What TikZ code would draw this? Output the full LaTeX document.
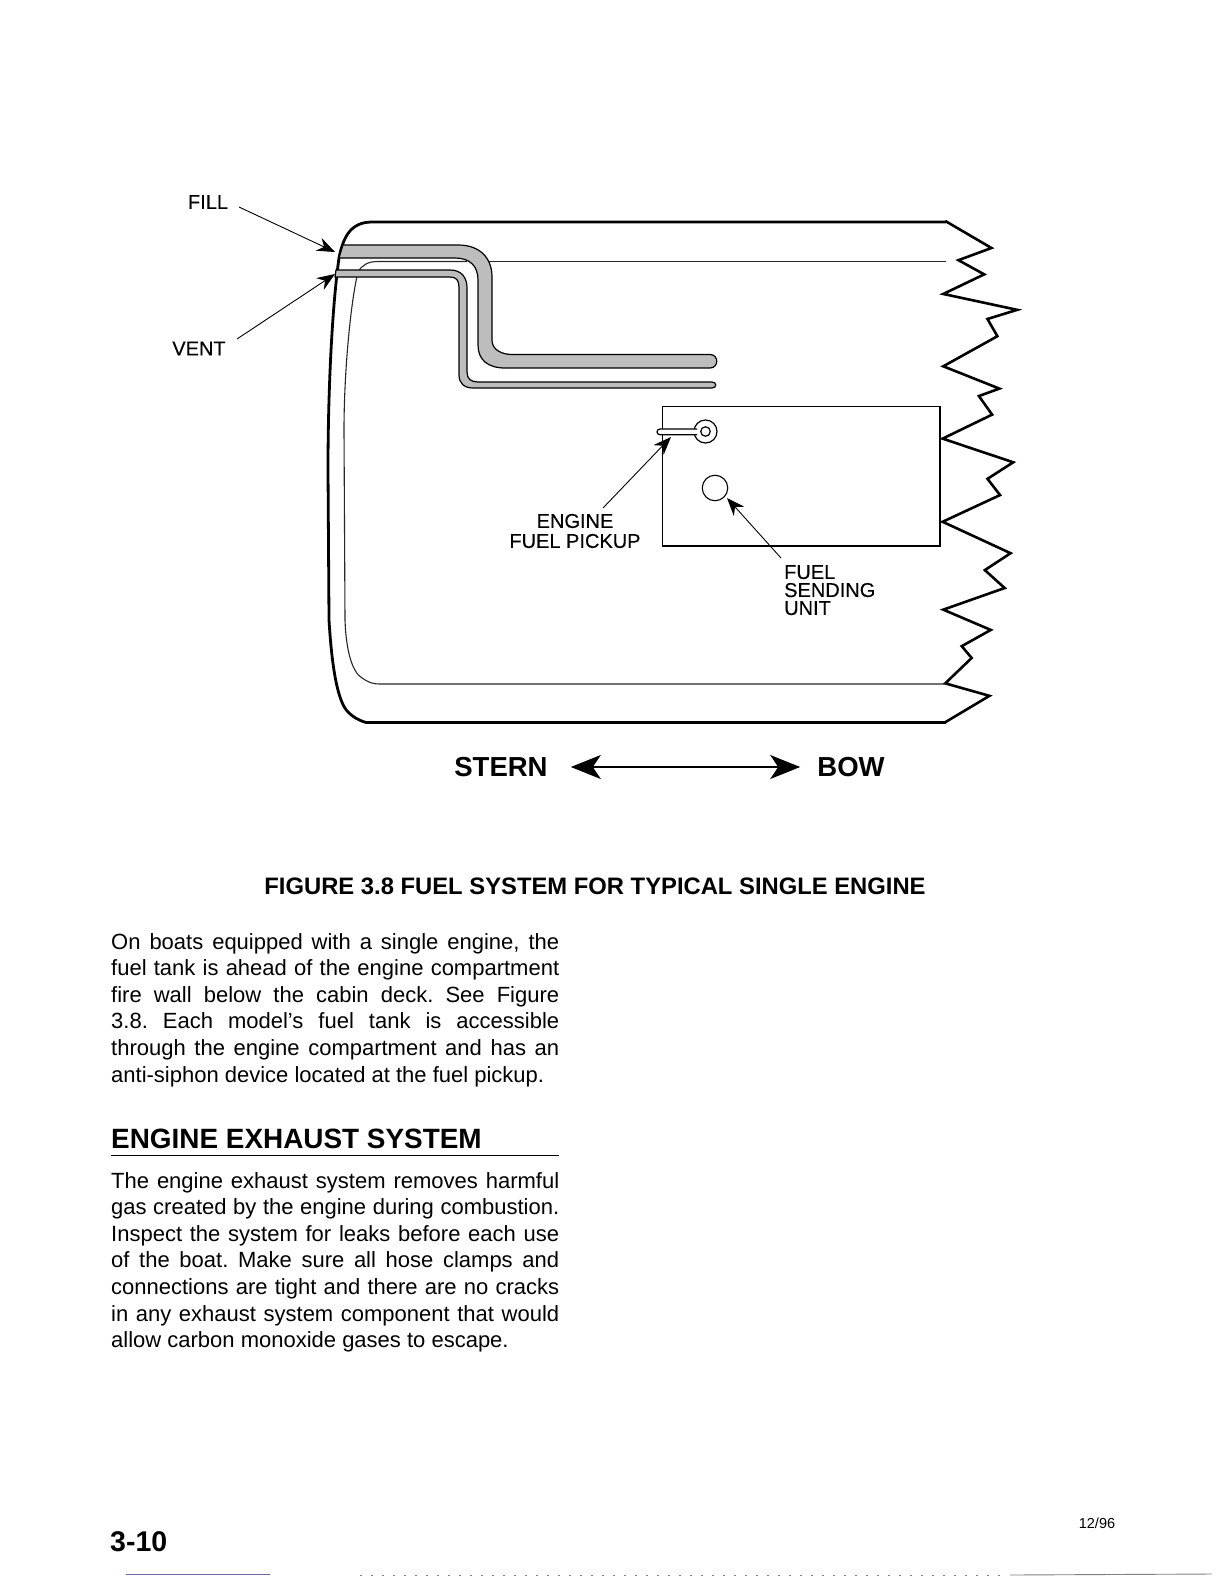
\documentclass[tikz,border=0pt]{standalone}
\usepackage{fontspec}
\setmainfont{Liberation Sans}
\newfontfamily\labelfont[FakeBold=0.25]{Liberation Sans}
\usetikzlibrary{arrows.meta}
\frenchspacing
\newcommand\jl[1]{\hbox to 448pt{#1}}
\newcommand\nl[1]{\hbox{#1}}
\tikzset{
  hull/.style={line width=2.8pt,line join=round},
  thinline/.style={line width=1.1pt,black!85},
  pipe/.style={draw=black,line width=1.2pt,fill=black!26},
  lbl/.style={inner sep=0pt,font=\labelfont\fontsize{20}{20}\selectfont,align=left},
  leader/.style={line width=0.9pt,-{Stealth[length=18pt,width=14pt,inset=6pt]}},
  para/.style={inner sep=0pt,anchor=north west},
}
\begin{document}
\begin{tikzpicture}[x=1pt,y=-1pt]
\useasboundingbox (0,0) rectangle (1224,1584);
% hull
\draw[hull] (946,222) -- (372,222) .. controls (350,222) and (343,238) .. (339,258)
  .. controls (333,300) and (328,380) .. (328,470)
  -- (329,620) .. controls (332,670) and (338,702) .. (348,712)
  .. controls (353,717) and (358,720) .. (366,722.5) -- (946,722.5);
\begin{scope}[shift={(919.5,200)},x=0.33pt,y=-0.338pt]
\draw[line width=2.6pt,line join=miter] (78,62)--(218,142)--(118,178)--(196,220)--(72,278)--(296,325)--(206,352)--(236,403)--(72,492)--(242,558)--(180,580)--(220,635)--(70,706)--(284,776)--(206,825)--(244,873)--(70,952)--(276,1045)--(198,1095)--(258,1148)--(72,1212)--(216,1272)--(128,1320)--(158,1355)--(78,1430)--(212,1467)--(78,1545);
\end{scope}
% inner hull line
\draw[thinline] (946,261.5) -- (488,261.5);
\draw[thinline] (467,261.5) -- (378,261.5) .. controls (368,261.5) and (362,265) .. (358,272)
  .. controls (351,300) and (344,370) .. (344,430) -- (345,620)
  .. controls (346,650) and (352,672) .. (362,678)
  .. controls (368,682) and (372,684) .. (380,684) -- (946,684);
% fill pipe
\draw[pipe] (343,245) -- (458,245) .. controls (480,245) and (492,258) .. (492,277)
  -- (492,340) .. controls (492,350) and (502,354.5) .. (512,354.5) -- (710,354.5)
  .. controls (719,354.5) and (719,368) .. (710,368) -- (505,368)
  .. controls (488,368) and (478,360) .. (478,345) -- (478,280)
  .. controls (478,266) and (470,258) .. (455,258) -- (339,258) -- cycle;
% vent pipe
\draw[pipe] (336,270) -- (450,270) .. controls (462,270) and (467,278) .. (467,288)
  -- (467,372) .. controls (467,379) and (471,382) .. (478,382) -- (712,382)
  .. controls (717,382) and (717,388) .. (712,388) -- (473,388)
  .. controls (464,388) and (459,383) .. (459,375) -- (459,287)
  .. controls (459,280) and (456,277) .. (450,277) -- (335,277) -- cycle;
% tank box
\draw[line width=1.3pt] (662.5,406.5) rectangle (940,546);
\node[draw,circle,line width=1.2pt,fill=white,minimum size=23pt,inner sep=0pt] (ringouter) at (705.5,431.5) {};
\draw[line width=1.2pt,fill=white] (697,429) -- (660,429) .. controls (656,429) and (656,434.7) .. (660,434.7) -- (697,434.7);
\node[draw,circle,line width=1.2pt,fill=white,minimum size=9.5pt,inner sep=0pt] (ringinner) at (705.5,431.5) {};
\node[draw,circle,line width=1.1pt,minimum size=25.5pt,inner sep=0pt] (sender) at (715,488) {};
% labels and leaders
\node[lbl,anchor=center] (fill) at (208,202) {FILL};
\node[lbl,anchor=center] (vent) at (199,348.5) {VENT};
\node[lbl,align=center,anchor=center] (pickup) at (575,531) {ENGINE\\FUEL PICKUP};
\node[lbl,anchor=north west,font=\labelfont\fontsize{20}{18}\selectfont] (sending) at (784,565) {FUEL\\SENDING\\UNIT};
\coordinate (fillstart) at (239,207);
\coordinate (filltip) at (335,252);
\coordinate (ventstart) at (237,339);
\coordinate (venttip) at (335,274);
\coordinate (pickstart) at (603,508);
\coordinate (picktip) at (671,437);
\coordinate (sendstart) at (781,558);
\coordinate (sendtip) at (727,498);
\draw[leader] (fillstart) -- (filltip);
\draw[leader] (ventstart) -- (venttip);
\draw[leader] (pickstart) -- (picktip);
\draw[leader] (sendstart) -- (sendtip);
% stern / bow
\node[inner sep=0pt,font=\fontsize{27.5}{30}\selectfont\bfseries] (stern) at (501,767) {STERN};
\node[inner sep=0pt,font=\fontsize{27.5}{30}\selectfont\bfseries] (bow) at (851,767) {BOW};
\draw[line width=1.3pt,{Stealth[length=30pt,width=24pt,inset=8pt]}-{Stealth[length=30pt,width=24pt,inset=8pt]},shorten <=23pt,shorten >=17pt] (stern.east) -- (bow.west);
% caption
\node[inner sep=0pt,font=\fontsize{23.8}{26}\selectfont\bfseries] (caption) at (595,886) {FIGURE 3.8 FUEL SYSTEM FOR TYPICAL SINGLE ENGINE};
% body
\node[para] (body1) at (111,933) {\vbox{\fontsize{22}{26.6}\selectfont\baselineskip=26.6pt
\jl{On boats equipped with a single engine, the}
\jl{fuel tank is ahead of the engine compartment}
\jl{fire wall below the cabin deck. See Figure}
\jl{3.8. Each model’s fuel tank is accessible}
\jl{through the engine compartment and has an}
\nl{anti-siphon device located at the fuel pickup.}}};
\node[para,font=\fontsize{27.9}{32}\selectfont\bfseries] (heading) at (111,1129) {ENGINE EXHAUST SYSTEM};
\draw[line width=1.4pt] (111,1155.5) -- (559,1155.5);
\node[para] (body2) at (111,1172) {\vbox{\fontsize{22}{26.6}\selectfont\baselineskip=26.6pt
\jl{The engine exhaust system removes harmful}
\jl{gas created by the engine during combustion.}
\jl{Inspect the system for leaks before each use}
\jl{of the boat. Make sure all hose clamps and}
\jl{connections are tight and there are no cracks}
\jl{in any exhaust system component that would}
\nl{allow carbon monoxide gases to escape.}}};
% footer
\node[para,font=\fontsize{28.5}{34}\selectfont\bfseries] (pagenum) at (110,1531) {3-10};
\node[inner sep=0pt,font=\fontsize{14.5}{16}\selectfont] (date) at (1097,1523) {12/96};
\draw[line width=1pt,black!55!blue!60] (126,1574) -- (270,1574);
\draw[line width=0.8pt,black!50,dash pattern=on 2pt off 9pt] (360,1575) -- (1005,1575);
\draw[line width=0.9pt,black!50] (1010,1575) -- (1212,1574);
\end{tikzpicture}
\end{document}
